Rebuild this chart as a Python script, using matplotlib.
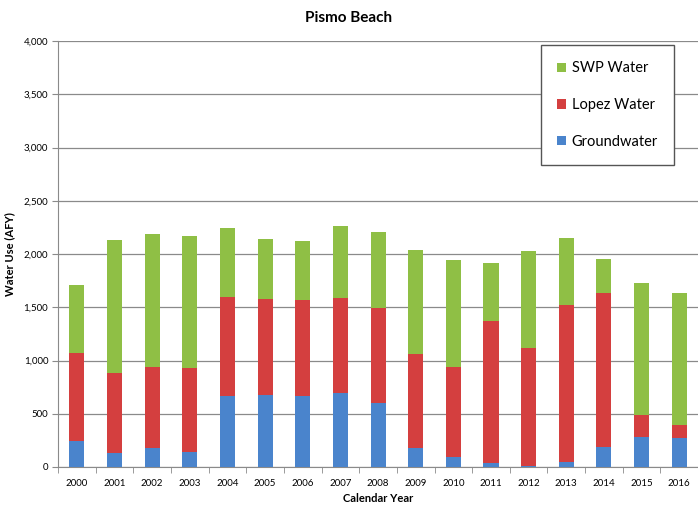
import matplotlib
matplotlib.use("Agg")
import matplotlib.pyplot as plt
from matplotlib.patches import Patch
from matplotlib.ticker import FuncFormatter, MultipleLocator
import numpy as np

plt.rcParams['font.family'] = ['Lato', 'DejaVu Sans']

years = [str(y) for y in range(2000, 2017)]
# stacked values (AFY)
groundwater = [245, 135, 182, 141, 667, 676, 667, 698, 598, 175, 91, 41, 10, 50, 191, 285, 270]
lopez_top = [1067, 886, 942, 927, 1599, 1575, 1568, 1590, 1496, 1061, 936, 1371, 1115, 1521, 1637, 488, 391]
total = [1709, 2132, 2188, 2172, 2241, 2138, 2122, 2263, 2210, 2038, 1944, 1912, 2028, 2147, 1950, 1731, 1637]

groundwater = np.array(groundwater)
lopez = np.array(lopez_top) - groundwater
swp = np.array(total) - np.array(lopez_top)

c_gw = "#4a84cc"
c_lopez = "#d43f3f"
c_swp = "#8fbf45"

fig = plt.figure(figsize=(6.98, 5.07), dpi=100)
ax = fig.add_axes([0.0831, 0.0789, 0.917, 0.840])

x = np.arange(len(years))
w = 0.4
ax.bar(x, groundwater, w, color=c_gw, zorder=3)
ax.bar(x, lopez, w, bottom=groundwater, color=c_lopez, zorder=3)
ax.bar(x, swp, w, bottom=groundwater + lopez, color=c_swp, zorder=3)

ax.set_xlim(-0.5, len(years) - 0.5)
ax.set_ylim(0, 4000)
ax.yaxis.set_major_locator(MultipleLocator(500))
ax.yaxis.set_major_formatter(FuncFormatter(lambda v, p: f"{int(v):,}"))
ax.grid(axis="y", color="#8a8a8a", linewidth=0.9, zorder=0)

ax.set_xticks(x)
ax.set_xticklabels(years)
ax.set_xticks(np.arange(-0.5, len(years), 1), minor=True)
ax.tick_params(axis="x", which="major", length=0, labelsize=7, pad=9)
ax.tick_params(axis="x", which="minor", length=4, color="#8a8a8a")
ax.tick_params(axis="y", length=4, color="#8a8a8a", labelsize=7, pad=3)

for s in ["top", "right"]:
    ax.spines[s].set_visible(False)
ax.spines["left"].set_color("#8a8a8a")
ax.spines["bottom"].set_color("#8a8a8a")

ax.set_ylabel("Water Use (AFY)", fontsize=8, fontweight="bold", labelpad=6)
ax.set_xlabel("Calendar Year", fontsize=8, fontweight="bold", labelpad=3)
fig.suptitle("Pismo Beach", fontsize=11, fontweight="bold", y=0.978)

handles = [Patch(facecolor=c_swp, label="SWP Water"),
           Patch(facecolor=c_lopez, label="Lopez Water"),
           Patch(facecolor=c_gw, label="Groundwater")]
leg = ax.legend(handles=handles, loc="upper right", bbox_to_anchor=(0.9625, 0.99),
                fontsize=10.5, labelspacing=1.55, handlelength=0.6, handleheight=0.6,
                handletextpad=0.4, borderpad=1.1, borderaxespad=0, fancybox=False,
                edgecolor="#555555", framealpha=1)
leg.get_frame().set_linewidth(1.0)
leg.set_zorder(5)

fig.savefig("out.png", dpi=100)
